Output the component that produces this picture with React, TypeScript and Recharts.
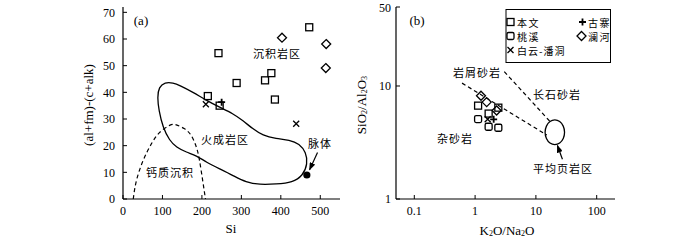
import React from "react"
import { ScatterChart, Scatter, XAxis, YAxis, ReferenceLine } from "recharts"

// tick values
const siTicks = [0, 100, 200, 300, 400, 500]
const diffTicks = [0, 10, 20, 30, 40, 50, 60, 70]
const ratioXTicks = [0.1, 1, 10, 100]
const ratioYTicks = [1, 10, 50]

// (a) Si vs (al+fm)-(c+alk)
const benwenA = [
  { x: 242, y: 54.7 },
  { x: 288, y: 43.5 },
  { x: 360, y: 44.5 },
  { x: 376, y: 47.2 },
  { x: 385, y: 37.3 },
  { x: 472, y: 64.4 },
]
const taoxiA = [
  { x: 215, y: 38.6 },
  { x: 245, y: 35 },
]
const guzhaiA = [{ x: 250, y: 36.3 }]
const lanheA = [
  { x: 403, y: 60.5 },
  { x: 515, y: 58.1 },
  { x: 514, y: 49.1 },
]
const baiyunA = [
  { x: 210, y: 35.5 },
  { x: 439, y: 28.2 },
]
const veinA = [{ x: 466, y: 9 }]

// igneous field outline (closed)
const igneousField = [
  { x: 106, y: 43.8 }, { x: 127, y: 43.6 }, { x: 144, y: 42.6 }, { x: 177, y: 40.1 },
  { x: 211, y: 37 }, { x: 245, y: 34.4 }, { x: 279, y: 32 }, { x: 304, y: 29.4 },
  { x: 329, y: 26.3 }, { x: 354, y: 23.8 }, { x: 388, y: 22.6 }, { x: 422, y: 22.2 },
  { x: 447, y: 20.7 }, { x: 464, y: 17.5 }, { x: 468, y: 13.2 }, { x: 456, y: 8.8 },
  { x: 430, y: 6.2 }, { x: 388, y: 5.6 }, { x: 346, y: 5.4 }, { x: 312, y: 6.2 },
  { x: 279, y: 8.8 }, { x: 245, y: 11.3 }, { x: 211, y: 13.8 }, { x: 186, y: 16.3 },
  { x: 161, y: 17.5 }, { x: 135, y: 19.4 }, { x: 118, y: 21.9 }, { x: 101, y: 26.9 },
  { x: 91, y: 33.2 }, { x: 87, y: 38.2 }, { x: 91, y: 42 },
]
// calcareous sediment arc (dashed)
const calcArc = [
  { x: 26, y: 0 }, { x: 34, y: 6.9 }, { x: 51, y: 14.4 }, { x: 72, y: 20.7 },
  { x: 93, y: 25 }, { x: 118, y: 27.6 }, { x: 135, y: 27.8 }, { x: 156, y: 26.3 },
  { x: 173, y: 23.8 }, { x: 186, y: 19.4 }, { x: 194, y: 14.4 }, { x: 202, y: 6.9 },
  { x: 209, y: 0 },
]

// (b) K2O/Na2O vs SiO2/Al2O3
const benwenB = [
  { x: 1.12, y: 6.7 },
  { x: 1.67, y: 5.7 },
  { x: 2.41, y: 6.43 },
]
const taoxiB = [
  { x: 1.12, y: 5.1 },
  { x: 1.67, y: 4.36 },
  { x: 2.41, y: 4.27 },
]
const lanheB = [
  { x: 1.25, y: 8.2 },
  { x: 1.55, y: 7.2 },
  { x: 2.26, y: 6.07 },
]
const baiyunB = [{ x: 1.61, y: 5.07 }]
const guzhaiB = [{ x: 2.02, y: 5.07 }]

const lithicLine = [
  { x: 0.61, y: 10.6 },
  { x: 15.1, y: 3.68 },
]
const arkoseLine = [
  { x: 3.02, y: 13.4 },
  { x: 17.2, y: 4.83 },
]
const shaleField = [
  { x: 30.1, y: 3.89 }, { x: 28.6, y: 4.44 }, { x: 24.8, y: 4.9 }, { x: 20.5, y: 5.07 },
  { x: 16.9, y: 4.9 }, { x: 14.7, y: 4.44 }, { x: 13.9, y: 3.89 }, { x: 14.7, y: 3.41 },
  { x: 16.9, y: 3.09 }, { x: 20.5, y: 2.99 }, { x: 24.8, y: 3.09 }, { x: 28.6, y: 3.41 },
]

const serif = '"Liberation Serif", "DejaVu Serif", serif'
const cjk = '"Noto Sans CJK SC", sans-serif'

const Square = ({ cx, cy }: any) => (
  <rect x={cx - 3.5} y={cy - 3.5} width={7} height={7} fill="none" stroke="#000" strokeWidth={1.3} />
)
const RoundSquare = ({ cx, cy }: any) => (
  <rect x={cx - 3.5} y={cy - 3.5} width={7} height={7} rx={1.5} fill="none" stroke="#000" strokeWidth={1.3} />
)
const Diamond = ({ cx, cy }: any) => (
  <path d={`M${cx},${cy - 4.5}L${cx + 4.5},${cy}L${cx},${cy + 4.5}L${cx - 4.5},${cy}Z`} fill="none" stroke="#000" strokeWidth={1.3} />
)
const Cross = ({ cx, cy }: any) => (
  <path d={`M${cx - 3},${cy - 3}L${cx + 3},${cy + 3}M${cx + 3},${cy - 3}L${cx - 3},${cy + 3}`} stroke="#000" strokeWidth={1.3} />
)
const Plus = ({ cx, cy }: any) => (
  <path d={`M${cx - 3.5},${cy}L${cx + 3.5},${cy}M${cx},${cy - 3.5}L${cx},${cy + 3.5}`} stroke="#000" strokeWidth={1.8} />
)
const Dot = ({ cx, cy }: any) => <circle cx={cx} cy={cy} r={3.6} fill="#000" />
const NoMark = () => <g />

const Arrow = (p: any) => (
  <line x1={p.x1} y1={p.y1} x2={p.x2} y2={p.y2} stroke="#000" strokeWidth={1.2} markerEnd="url(#arrowHead)" />
)

const tickStyle = { fill: "#000", fontSize: 12, fontFamily: serif }
const axisLine = { stroke: "#000", strokeWidth: 1.2 }

function PanelA() {
  return (
    <ScatterChart width={350} height={248} margin={{ top: 7, right: 10, bottom: 19, left: 0 }}>
      <XAxis
        type="number"
        dataKey="x"
        domain={[0, 550]}
        ticks={siTicks}
        allowDataOverflow
        axisLine={axisLine}
        tickLine={{ stroke: "#000" }}
        tickSize={-4}
        tickMargin={11}
        tick={tickStyle}
      />
      <YAxis
        type="number"
        dataKey="y"
        width={123}
        domain={[0, 72]}
        ticks={diffTicks}
        allowDataOverflow
        axisLine={axisLine}
        tickLine={{ stroke: "#000" }}
        tickSize={-4}
        tickMargin={12}
        tick={tickStyle}
      />
      <Scatter data={igneousField} shape={NoMark} fill="none" line={{ stroke: "#000", strokeWidth: 1.3 }} lineJointType="basisClosed" isAnimationActive={false} />
      <Scatter data={calcArc} shape={NoMark} fill="none" line={{ stroke: "#000", strokeWidth: 1.2, strokeDasharray: "4 3" }} lineJointType="natural" isAnimationActive={false} />
      <Scatter data={benwenA} shape={Square} isAnimationActive={false} />
      <Scatter data={taoxiA} shape={Square} isAnimationActive={false} />
      <Scatter data={lanheA} shape={Diamond} isAnimationActive={false} />
      <Scatter data={baiyunA} shape={Cross} isAnimationActive={false} />
      <Scatter data={guzhaiA} shape={Plus} isAnimationActive={false} />
      <Scatter data={veinA} shape={Dot} isAnimationActive={false} />
      <ReferenceLine segment={[{ x: 493, y: 17.4 }, { x: 473, y: 11 }]} shape={Arrow} />
    </ScatterChart>
  )
}

function PanelB() {
  return (
    <ScatterChart width={350} height={248} margin={{ top: 7, right: 85, bottom: 19, left: 0 }}>
      <XAxis
        type="number"
        dataKey="x"
        scale="log"
        domain={[0.05, 200]}
        ticks={ratioXTicks}
        allowDataOverflow
        axisLine={axisLine}
        tickLine={{ stroke: "#000" }}
        tickSize={-4}
        tickMargin={11}
        tick={tickStyle}
      />
      <YAxis
        type="number"
        dataKey="y"
        scale="log"
        width={46}
        domain={[1, 50]}
        ticks={ratioYTicks}
        allowDataOverflow
        axisLine={axisLine}
        tickLine={{ stroke: "#000" }}
        tickSize={-4}
        tickMargin={9}
        tick={tickStyle}
      />
      <Scatter data={lithicLine} shape={NoMark} fill="none" line={{ stroke: "#000", strokeWidth: 1.2, strokeDasharray: "4 3" }} isAnimationActive={false} />
      <Scatter data={arkoseLine} shape={NoMark} fill="none" line={{ stroke: "#000", strokeWidth: 1.2, strokeDasharray: "4 3" }} isAnimationActive={false} />
      <Scatter data={shaleField} shape={NoMark} fill="none" line={{ stroke: "#000", strokeWidth: 1.3 }} lineJointType="basisClosed" isAnimationActive={false} />
      <Scatter data={benwenB} shape={Square} isAnimationActive={false} />
      <Scatter data={taoxiB} shape={RoundSquare} isAnimationActive={false} />
      <Scatter data={lanheB} shape={Diamond} isAnimationActive={false} />
      <Scatter data={baiyunB} shape={Cross} isAnimationActive={false} />
      <Scatter data={guzhaiB} shape={Plus} isAnimationActive={false} />
      <ReferenceLine segment={[{ x: 27.3, y: 2.25 }, { x: 22.6, y: 2.97 }]} shape={Arrow} />
    </ScatterChart>
  )
}

function Overlay() {
  const t = { fontFamily: cjk, fontSize: 11, fill: "#000", textAnchor: "middle" as const, dominantBaseline: "central" as const }
  const s = { fontFamily: serif, fontSize: 13, fill: "#000", textAnchor: "middle" as const, dominantBaseline: "central" as const }
  const lg = { fontFamily: cjk, fontSize: 10, fill: "#000", dominantBaseline: "central" as const, letterSpacing: 1.5 }
  return (
    <svg width={700} height={248} style={{ position: "absolute", left: 0, top: 0, pointerEvents: "none" }}>
      <defs>
        <marker id="arrowHead" markerWidth={8} markerHeight={6} refX={7} refY={3} orient="auto" markerUnits="userSpaceOnUse">
          <path d="M0,0L8,3L0,6Z" fill="#000" />
        </marker>
      </defs>
      {/* panel a */}
      <text x={141} y={20} {...s}>(a)</text>
      <text x={88} y={105} {...s} transform="rotate(-90 88 105)">(al+fm)-(c+alk)</text>
      <text x={231} y={228} {...s}>Si</text>
      <text x={277} y={53} {...t} letterSpacing={1}>沉积岩区</text>
      <text x={225} y={139} {...t} letterSpacing={1}>火成岩区</text>
      <text x={170} y={172} {...t} letterSpacing={1}>钙质沉积</text>
      <text x={320} y={143} {...t} letterSpacing={1}>脉体</text>
      {/* panel b */}
      <text x={417} y={20} {...s}>(b)</text>
      <text x={361} y={105} {...s} transform="rotate(-90 361 105)">
        SiO<tspan fontSize={8} dy={3}>2</tspan><tspan dy={-3}>/Al</tspan><tspan fontSize={8} dy={3}>2</tspan><tspan dy={-3}>O</tspan><tspan fontSize={8} dy={3}>3</tspan>
      </text>
      <text x={507} y={230} {...s}>
        K<tspan fontSize={8} dy={3}>2</tspan><tspan dy={-3}>O/Na</tspan><tspan fontSize={8} dy={3}>2</tspan><tspan dy={-3}>O</tspan>
      </text>
      <text x={477} y={72} {...t} letterSpacing={1}>岩屑砂岩</text>
      <text x={557} y={94} {...t} letterSpacing={1}>长石砂岩</text>
      <text x={455} y={138} {...t} letterSpacing={1}>杂砂岩</text>
      <text x={563} y={168} {...t} letterSpacing={1}>平均页岩区</text>
      {/* legend */}
      <rect x={506} y={9.5} width={104.5} height={53} fill="#fff" stroke="#000" strokeWidth={1} />
      <Square cx={510.5} cy={22} />
      <text x={517} y={22} {...lg}>本文</text>
      <Plus cx={582.5} cy={22} />
      <text x={588} y={22} {...lg}>古寨</text>
      <RoundSquare cx={510.5} cy={36} />
      <text x={517} y={36} {...lg}>桃溪</text>
      <Diamond cx={581.5} cy={36} />
      <text x={588} y={36} {...lg}>澜河</text>
      <Cross cx={510.5} cy={50} />
      <text x={517} y={50} {...lg} letterSpacing={1}>白云-潘洞</text>
    </svg>
  )
}

export default function App() {
  return (
    <div style={{ position: "absolute", left: 0, top: 0, width: 700, height: 248, background: "#fff" }}>
      <div style={{ position: "absolute", left: 0, top: 0 }}>
        <PanelA />
      </div>
      <div style={{ position: "absolute", left: 350, top: 0 }}>
        <PanelB />
      </div>
      <Overlay />
    </div>
  )
}
